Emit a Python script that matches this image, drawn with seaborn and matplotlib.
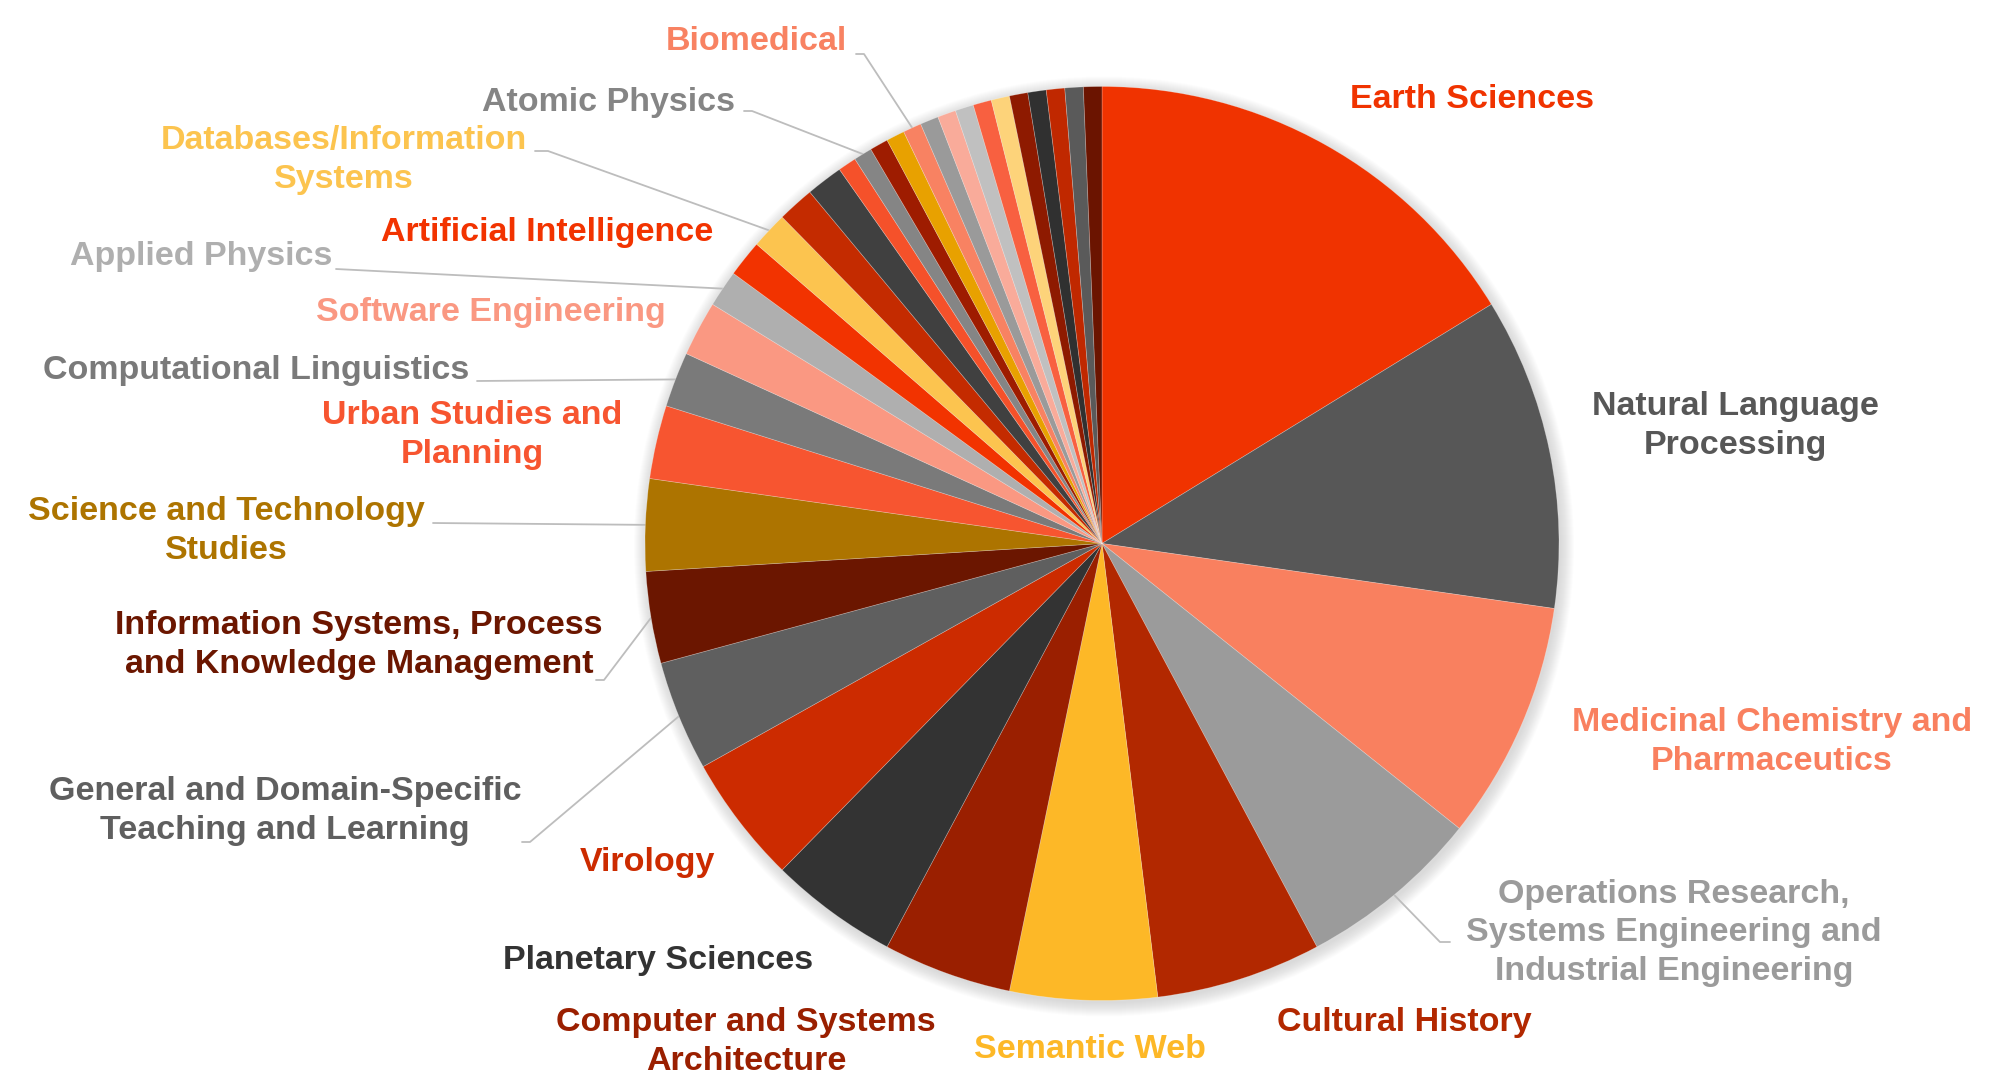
import matplotlib
matplotlib.use('Agg')
import matplotlib.pyplot as plt
import seaborn as sns
import numpy as np
from matplotlib.patches import Circle

# ---- data: number of datasets per research field (clockwise from 12 o'clock)
fields = [
    'Earth Sciences', 'Natural Language\nProcessing',
    'Medicinal Chemistry and\nPharmaceutics',
    'Operations Research,\nSystems Engineering and\nIndustrial Engineering',
    'Cultural History', 'Semantic Web', 'Computer and Systems\nArchitecture',
    'Planetary Sciences', 'Virology',
    'General and Domain-Specific\nTeaching and Learning',
    'Information Systems, Process\nand Knowledge Management',
    'Science and Technology\nStudies', 'Urban Studies and\nPlanning',
    'Computational Linguistics', 'Software Engineering', 'Applied Physics',
    'Artificial Intelligence', 'Databases/Information\nSystems',
    None, None, None, 'Atomic Physics', None, None, 'Biomedical',
    None, None, None, None, None, None, None, None, None, None,
]
counts = [25, 17, 13, 10, 9, 8, 7, 7, 7, 6, 5, 5, 4, 3, 3, 2, 2, 2, 2, 2,
          1, 1, 1, 1, 1, 1, 1, 1, 1, 1, 1, 1, 1, 1, 1]

# ---- style
colors = ['#F03300', '#575757', '#F9805F', '#9B9B9B', '#B22800', '#FDB827',
          '#9A1F00', '#333333', '#CC2B00', '#5F5F5F', '#6B1600', '#AD7400',
          '#F75530', '#7A7A7A', '#FA9882', '#AFAFAF', '#F23300', '#FCC44F',
          '#C42B00', '#404040', '#F5512A', '#858585', '#9E1C00', '#E8A100',
          '#F88262', '#9A9A9A', '#F9AB9A', '#C0C0C0', '#F86040', '#FDD37A',
          '#8E1A00', '#303030', '#C02800', '#5A5A5A', '#6B1400']

W, H = 2000, 1092
cx, cy, R = 1102, H - 543.5, 457

# label centre (px from top-left); leader: text-side end, elbow (or None)
label_pos = {
    'Earth Sciences': (1472, 100),
    'Natural Language\nProcessing': (1735, 426),
    'Medicinal Chemistry and\nPharmaceutics': (1772, 742),
    'Operations Research,\nSystems Engineering and\nIndustrial Engineering': (1674, 933),
    'Cultural History': (1404, 1023),
    'Semantic Web': (1090, 1049),
    'Computer and Systems\nArchitecture': (746, 1042),
    'Planetary Sciences': (658, 961),
    'Virology': (647, 863),
    'General and Domain-Specific\nTeaching and Learning': (285, 811),
    'Information Systems, Process\nand Knowledge Management': (359, 645),
    'Science and Technology\nStudies': (226, 531),
    'Urban Studies and\nPlanning': (472, 435),
    'Computational Linguistics': (256, 370),
    'Software Engineering': (491, 313),
    'Applied Physics': (201, 256),
    'Artificial Intelligence': (547, 232),
    'Databases/Information\nSystems': (344, 160),
    'Atomic Physics': (609, 103),
    'Biomedical': (756, 42),
}
leaders = {
    'Biomedical': [(856, 54), (864, 54)],
    'Atomic Physics': [(744, 111), (752, 111)],
    'Databases/Information\nSystems': [(535, 151), (548, 151)],
    'Applied Physics': [(336, 269)],
    'Computational Linguistics': [(477, 381)],
    'Science and Technology\nStudies': [(433, 523)],
    'Information Systems, Process\nand Knowledge Management': [(596, 680), (604, 680)],
    'General and Domain-Specific\nTeaching and Learning': [(522, 842), (530, 842)],
    'Operations Research,\nSystems Engineering and\nIndustrial Engineering': [(1450, 942), (1440, 942)],
}

sns.set_theme(style='white')
plt.rcParams['font.family'] = ['Liberation Sans', 'DejaVu Sans']

fig = plt.figure(figsize=(20, 10.92), dpi=100)
ax = fig.add_axes([0, 0, 1, 1])

# soft halo behind the pie
for i in range(14):
    ax.add_patch(Circle((cx + 2, cy - 3), R + i * 1.0, color='#808080',
                        alpha=0.018, lw=0, zorder=0))

wedges, _ = ax.pie(counts, colors=colors, startangle=90, counterclock=False,
                   center=(cx, cy), radius=R,
                   wedgeprops=dict(linewidth=0.5, edgecolor=(1, 1, 1, 0.3)))
for w in wedges:
    w.set_zorder(2)

for w, name, col in zip(wedges, fields, colors):
    if name is None:
        continue
    x, y = label_pos[name]
    ax.text(x, H - y, name, ha='center', va='center', fontsize=24.5,
            fontweight='bold', color=col, linespacing=1.3, zorder=3)
    if name in leaders:
        mid = np.deg2rad((w.theta1 + w.theta2) / 2)
        anchor = (cx + R * np.cos(mid), cy + R * np.sin(mid))
        pts = [(px, H - py) for px, py in leaders[name]] + [anchor]
        xs, ys = zip(*pts)
        ax.plot(xs, ys, color='#BDBDBD', lw=1.3, zorder=1)

ax.set_xlim(0, W)
ax.set_ylim(0, H)
ax.set_aspect('equal')
ax.axis('off')

fig.savefig('out.png', dpi=100, facecolor='white')
plt.close(fig)
